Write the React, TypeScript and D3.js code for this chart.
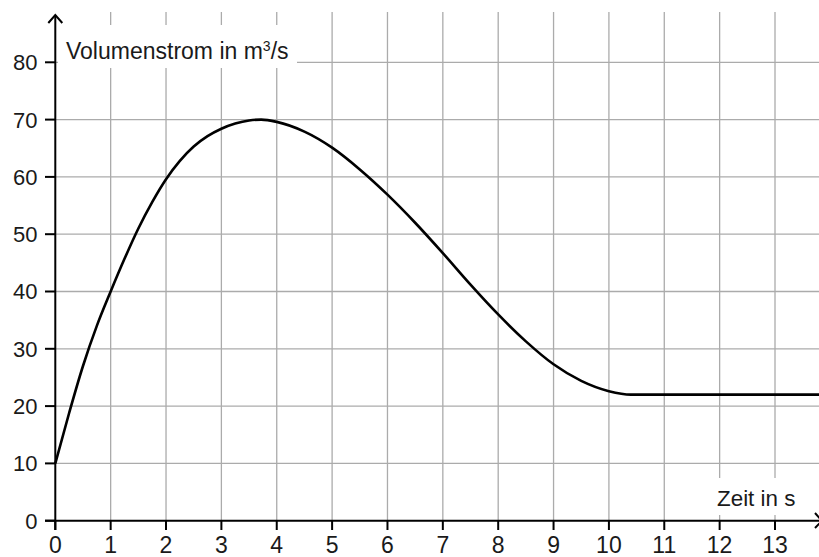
import React from 'react';
import * as d3 from 'd3';

// values
const timeS = [0, 0.25, 0.5, 0.75, 1, 1.25, 1.5, 1.75, 2, 2.25, 2.5, 2.75, 3, 3.25, 3.5, 3.72, 4, 4.5, 5, 5.5, 6, 6.5, 7, 7.5, 8, 8.5, 9, 9.5, 10, 10.4, 13.9];
const flow = [10, 18.8, 27, 34, 40, 45.7, 51, 55.6, 59.6, 62.8, 65.3, 67.1, 68.4, 69.3, 69.85, 70, 69.6, 67.9, 65.1, 61.3, 56.9, 52, 46.7, 41.2, 36, 31.3, 27.3, 24.4, 22.6, 22, 22];
const xTicks = [0, 1, 2, 3, 4, 5, 6, 7, 8, 9, 10, 11, 12, 13];
const yTicks = [0, 10, 20, 30, 40, 50, 60, 70, 80];

const W = 819;
const H = 557;
const FONT = '"Liberation Sans", Arial, Helvetica, sans-serif';

export default function App() {
  const x = d3.scaleLinear().domain([0, 13]).range([55.3, 775]);
  const y = d3.scaleLinear().domain([0, 80]).range([520.7, 62.3]);

  const points: [number, number][] = timeS.map((t, i) => [t, flow[i]]);
  const line = d3.line<[number, number]>()
    .x((d) => x(d[0]))
    .y((d) => y(d[1]))
    .curve(d3.curveMonotoneX);

  const x0 = x(0);
  const y0 = y(0);
  const gridColor = '#ababab';

  return (
    <svg width={W} height={H} style={{ position: 'absolute', left: 0, top: 0, background: '#fff' }}>
      {/* grid */}
      {xTicks.filter((t) => t > 0).map((t) => (
        <line key={'gx' + t} x1={x(t)} x2={x(t)} y1={12} y2={y0} stroke={gridColor} strokeWidth={1.3} />
      ))}
      {yTicks.filter((t) => t > 0).map((t) => (
        <line key={'gy' + t} x1={x0} x2={W} y1={y(t)} y2={y(t)} stroke={gridColor} strokeWidth={1.3} />
      ))}

      {/* label backgrounds cut the grid */}
      <rect x={58} y={25} width={239} height={43} fill="#fff" />
      <rect x={712} y={478} width={W - 712} height={37} fill="#fff" />

      {/* curve */}
      <path d={line(points) || ''} fill="none" stroke="#000" strokeWidth={2.6} strokeLinejoin="round" />

      {/* axes */}
      <line x1={45} x2={822} y1={y0} y2={y0} stroke="#000" strokeWidth={2} />
      <line x1={x0} x2={x0} y1={530} y2={15} stroke="#000" strokeWidth={2} />
      <path d={`M${x0 - 7},23 L${x0},15 L${x0 + 7},23`} fill="none" stroke="#000" strokeWidth={2} />
      <path d={`M815,513 L822,${y0} L815,528`} fill="none" stroke="#000" strokeWidth={2} />

      {/* ticks */}
      {yTicks.map((t) => (
        <g key={'ty' + t}>
          <line x1={45} x2={x0} y1={y(t)} y2={y(t)} stroke="#000" strokeWidth={2} />
          <text x={37.5} y={y(t)} dy="0.36em" textAnchor="end" fontSize={22} fontFamily={FONT} fill="#1a1a1a">{t}</text>
        </g>
      ))}
      {xTicks.map((t) => (
        <g key={'tx' + t}>
          <line x1={x(t)} x2={x(t)} y1={y0} y2={530} stroke="#000" strokeWidth={2} />
          <text x={x(t)} y={553} textAnchor="middle" fontSize={23} fontFamily={FONT} fill="#1a1a1a">{t}</text>
        </g>
      ))}

      {/* axis titles */}
      <text x={66} y={59} fontSize={23} fontFamily={FONT} fill="#1a1a1a">
        Volumenstrom in m<tspan fontSize={14} dy={-8}>3</tspan><tspan dy={8}>/s</tspan>
      </text>
      <text x={717} y={506} fontSize={22.4} fontFamily={FONT} fill="#1a1a1a">Zeit in s</text>
    </svg>
  );
}
